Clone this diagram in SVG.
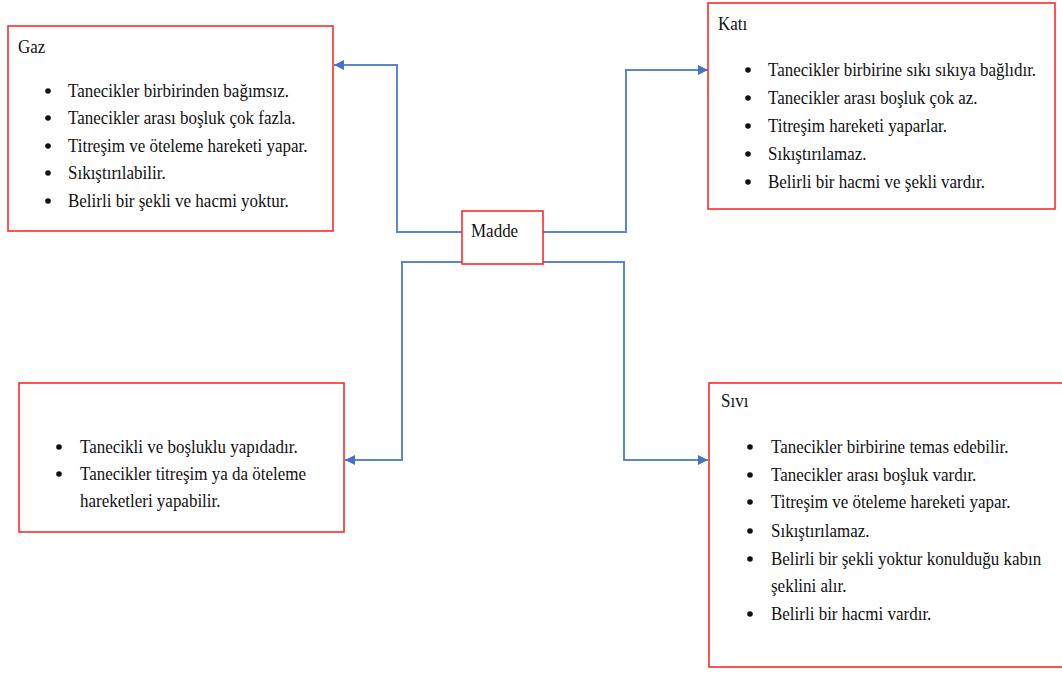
<svg xmlns="http://www.w3.org/2000/svg" width="1062" height="673" viewBox="0 0 1062 673">
<style>
.box{fill:#fff;stroke:#ff2a2a;stroke-width:1.6}
text{font-family:'Liberation Serif','Tinos','Times New Roman','Noto Serif','DejaVu Serif',serif;font-size:17px;fill:#111}
.c{fill:none;stroke:#5b86d0;stroke-width:2}
.b{fill:#111}
</style>
<defs>
<marker id="arr" markerUnits="userSpaceOnUse" markerWidth="10" markerHeight="10" refX="10" refY="5" orient="auto">
<path d="M0,0 L10,5 L0,10 z" fill="#4472c4"/>
</marker>
</defs>
<rect width="1062" height="673" fill="#fff"/>
<g id="connectors">
<path class="c" d="M462,232 H397 V65 H334" marker-end="url(#arr)"/>
<path class="c" d="M543,232 H626 V70 H708" marker-end="url(#arr)"/>
<path class="c" d="M462,262 H402 V460 H345" marker-end="url(#arr)"/>
<path class="c" d="M543,262 H624 V460 H708" marker-end="url(#arr)"/>
</g>
<g id="madde">
<rect class="box" x="462" y="211" width="81" height="53"/>
<text font-family="Liberation Serif, serif" transform="translate(471,237) scale(1,1.12)">Madde</text>
</g>
<g id="gaz" font-family="Liberation Serif, serif">
<rect class="box" x="8" y="26" width="325" height="205"/>
<text transform="translate(18,53) scale(1,1.12)">Gaz</text>
<circle class="b" cx="48" cy="91" r="2.8"/>
<text transform="translate(68,97) scale(1,1.12)">Tanecikler birbirinden bağımsız.</text>
<circle class="b" cx="48" cy="118" r="2.8"/>
<text transform="translate(68,124) scale(1,1.12)">Tanecikler arası boşluk çok fazla.</text>
<circle class="b" cx="48" cy="146" r="2.8"/>
<text transform="translate(68,152) scale(1,1.12)">Titreşim ve öteleme hareketi yapar.</text>
<circle class="b" cx="48" cy="173" r="2.8"/>
<text transform="translate(68,179) scale(1,1.12)">Sıkıştırılabilir.</text>
<circle class="b" cx="48" cy="201" r="2.8"/>
<text transform="translate(68,207) scale(1,1.12)">Belirli bir şekli ve hacmi yoktur.</text>
</g>
<g id="kati">
<rect class="box" x="708" y="3" width="347" height="206"/>
<text transform="translate(718,30) scale(1,1.12)">Katı</text>
<circle class="b" cx="748" cy="70" r="2.8"/>
<text transform="translate(768,76) scale(1,1.12)">Tanecikler birbirine sıkı sıkıya bağlıdır.</text>
<circle class="b" cx="748" cy="98" r="2.8"/>
<text transform="translate(768,104) scale(1,1.12)">Tanecikler arası boşluk çok az.</text>
<circle class="b" cx="748" cy="126" r="2.8"/>
<text transform="translate(768,132) scale(1,1.12)">Titreşim hareketi yaparlar.</text>
<circle class="b" cx="748" cy="154" r="2.8"/>
<text transform="translate(768,160) scale(1,1.12)">Sıkıştırılamaz.</text>
<circle class="b" cx="748" cy="182" r="2.8"/>
<text transform="translate(768,188) scale(1,1.12)">Belirli bir hacmi ve şekli vardır.</text>
</g>
<g id="plazma">
<rect class="box" x="19" y="383" width="325" height="149"/>
<circle class="b" cx="59" cy="447" r="2.8"/>
<text transform="translate(80,453) scale(1,1.12)">Tanecikli ve boşluklu yapıdadır.</text>
<circle class="b" cx="59" cy="474" r="2.8"/>
<text transform="translate(80,480) scale(1,1.12)">Tanecikler titreşim ya da öteleme</text>
<text transform="translate(80,507) scale(1,1.12)">hareketleri yapabilir.</text>
</g>
<g id="sivi">
<rect class="box" x="709" y="383" width="360" height="284"/>
<text transform="translate(721,407) scale(1,1.12)">Sıvı</text>
<circle class="b" cx="750" cy="447" r="2.8"/>
<text transform="translate(771,453) scale(1,1.12)">Tanecikler birbirine temas edebilir.</text>
<circle class="b" cx="750" cy="475" r="2.8"/>
<text transform="translate(771,481) scale(1,1.12)">Tanecikler arası boşluk vardır.</text>
<circle class="b" cx="750" cy="502" r="2.8"/>
<text transform="translate(771,508) scale(1,1.12)">Titreşim ve öteleme hareketi yapar.</text>
<circle class="b" cx="750" cy="531" r="2.8"/>
<text transform="translate(771,537) scale(1,1.12)">Sıkıştırılamaz.</text>
<circle class="b" cx="750" cy="559" r="2.8"/>
<text transform="translate(771,565) scale(1,1.12)">Belirli bir şekli yoktur konulduğu kabın</text>
<text transform="translate(771,592) scale(1,1.12)">şeklini alır.</text>
<circle class="b" cx="750" cy="614" r="2.8"/>
<text transform="translate(771,620) scale(1,1.12)">Belirli bir hacmi vardır.</text>
</g>
</svg>
